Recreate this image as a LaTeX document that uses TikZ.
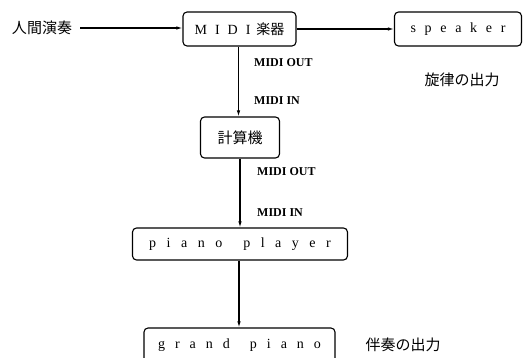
\documentclass[tikz,border=0pt]{standalone}
\usepackage{fontspec}
\setmainfont{Liberation Serif}
\newfontfamily\jpfont{Noto Sans CJK JP}
\newcommand\lsp{\kern10.5pt}
\newcommand\wsp{\kern21pt}
\newcommand\gsp{\kern10pt}
\newcommand\ssp{\kern8.7pt}
\usetikzlibrary{arrows.meta}
\begin{document}
\begin{tikzpicture}[x=1pt,y=-1pt,
  box/.style={draw, rounded corners=4pt, line width=1.1pt, inner sep=0pt},
  conn/.style={line width=1.1pt, -{Latex[length=6pt,width=3.5pt]}},
  lbl/.style={font=\fontsize{12}{14}\selectfont\bfseries, anchor=west, inner sep=0pt},
  jp/.style={font=\fontsize{15}{17}\selectfont\jpfont, inner sep=0pt},
  sp/.style={font=\fontsize{14}{16}\selectfont}]
\useasboundingbox (0,0) rectangle (529,358);
\clip (0,0) rectangle (529,358);
\node[jp] (human) at (42,28) {人間演奏};
\node[box, minimum width=113pt, minimum height=34pt, sp] (midi) at (239.5,29)
  {M\kern8pt I\kern8pt D\kern8pt I\kern6pt{\fontsize{14}{16}\selectfont\jpfont 楽器}};
\node[box, minimum width=127pt, minimum height=34pt, sp] (speaker) at (458,29)
  {s\ssp p\ssp e\ssp a\ssp k\ssp e\ssp r};
\node[box, minimum width=79pt, minimum height=41pt, jp] (keisan) at (240,137.5) {計算機};
\node[box, minimum width=215pt, minimum height=32pt, sp] (player) at (240,244)
  {p\lsp i\lsp a\lsp n\lsp o\wsp p\lsp l\lsp a\lsp y\lsp e\lsp r};
\node[box, minimum width=191pt, minimum height=34pt, sp] (grand) at (239.5,345)
  {g\gsp r\gsp a\gsp n\gsp d\kern20pt p\gsp i\gsp a\gsp n\gsp o};
\node[jp] (senritsu) at (462,80) {旋律の出力};
\node[jp] (bansou) at (403,345) {伴奏の出力};
\node[lbl] (out1) at (254,63) {MIDI OUT};
\node[lbl] (in1) at (254,101) {MIDI IN};
\node[lbl] (out2) at (257,172) {MIDI OUT};
\node[lbl] (in2) at (257,213) {MIDI IN};
\coordinate (hs) at ([xshift=8pt]human.east);
\draw[conn] (hs) -- (midi.west |- hs);
\draw[conn] (midi.east) -- (speaker.west);
\draw[conn] ([xshift=-1pt]midi.south) -- ([xshift=-1pt]midi.south |- keisan.north);
\draw[conn] (keisan.south) -- (keisan.south |- player.north);
\draw[conn] ([xshift=-1pt]player.south) -- ([xshift=-1pt]player.south |- grand.north);
\end{tikzpicture}
\end{document}
